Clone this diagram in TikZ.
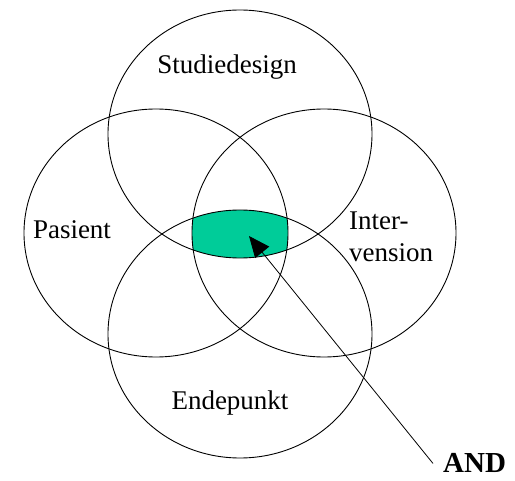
\documentclass[tikz,border=0pt]{standalone}
\usepackage{fontspec}
\setmainfont{Liberation Serif}
\usetikzlibrary{arrows.meta}
\definecolor{andgreen}{RGB}{0,204,153}
\begin{document}
\begin{tikzpicture}
  [x=1pt,y=-1pt,
   ring/.style={draw,line width=0.9pt},
   topic/.style={font=\fontsize{27}{32}\selectfont,inner sep=0pt},
   pointer/.style={line width=0.8pt,-{Triangle[length=21pt,width=18pt]}}]
  \useasboundingbox (0,0) rectangle (515,481);
  \coordinate (design) at (240,134);
  \coordinate (patient) at (156,233);
  \coordinate (interv) at (324,233);
  \coordinate (endpt) at (240,334);
  % common part of all four
  \begin{scope}
    \clip (design) ellipse [x radius=132pt,y radius=124pt];
    \clip (patient) ellipse [x radius=132pt,y radius=124pt];
    \clip (interv) ellipse [x radius=132pt,y radius=124pt];
    \clip (endpt) ellipse [x radius=132pt,y radius=124pt];
    \fill[andgreen] (0,0) rectangle (515,481);
  \end{scope}
  \foreach \c in {design,patient,interv,endpt}
    \draw[ring] (\c) ellipse [x radius=132pt,y radius=124pt];
  \node[topic] (designlabel) at (227,67) {Studiedesign};
  \node[topic] (patientlabel) at (72,230) {Pasient};
  \node[topic,align=left,anchor=north west] (intervlabel) at (349,212) {Inter-\\vension};
  \node[topic] (endptlabel) at (230,403) {Endepunkt};
  \node[font=\fontsize{29}{33}\bfseries\selectfont,inner sep=0pt,anchor=base west]
    (and) at (443,473) {AND};
  \coordinate (core) at (249,236);
  \coordinate (tail) at ([xshift=-10pt]and.west);
  \draw[pointer] (tail) -- (core);
\end{tikzpicture}
\end{document}
